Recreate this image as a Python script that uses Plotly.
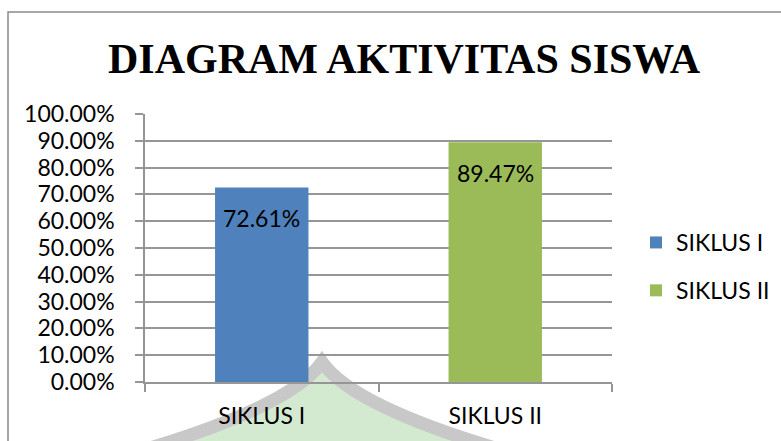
import plotly.graph_objects as go

categories = ["SIKLUS I", "SIKLUS II"]
values = [0.7261, 0.8947]
colors = ["#4F81BD", "#9BBB59"]
title_text = "DIAGRAM AKTIVITAS SISWA"

W, H = 781, 441
L, R, T, B = 145, 612, 114, 382  # plot area in pixels
pw, ph = R - L, B - T


def px(x):
    return (x - L) / pw


def py(y):
    return (B - y) / ph


fig = go.Figure()
for cat, val, col in zip(categories, values, colors):
    fig.add_trace(go.Bar(
        x=[cat], y=[val], name=cat, marker=dict(color=col, line=dict(width=0)),
        width=0.4, legendgroup=cat, hoverinfo="skip",
    ))
    fig.add_annotation(
        x=cat, y=val, xref="x", yref="y", text=f"{val*100:.2f}%",
        showarrow=False, yshift=-31, yanchor="middle",
        font=dict(family="Lato", size=23, color="#000000"),
    )

grid = "#969696"
fig.update_layout(
    width=W, height=H,
    margin=dict(l=L, r=W - R, t=T, b=H - B, pad=0, autoexpand=False),
    paper_bgcolor="white", plot_bgcolor="rgba(0,0,0,0)",
    barmode="overlay",
    title=dict(
        text=title_text, x=404 / W, xanchor="center",
        y=1 - 58 / H, yanchor="middle", yref="container",
        font=dict(family="Liberation Serif", size=42, color="#000000", weight="bold"),
    ),
    font=dict(family="Lato", size=23, color="#000000"),
    showlegend=True,
    legend=dict(
        x=px(636), xanchor="left", y=py(266.5), yanchor="middle",
        font=dict(family="Lato", size=23, color="#000000"),
        tracegroupgap=15, bgcolor="rgba(0,0,0,0)",
    ),
    xaxis=dict(
        type="category", showgrid=False, showline=True, linecolor=grid, linewidth=1.5,
        ticks="outside", ticklen=8, tickcolor=grid, tickwidth=1.5,
        tickson="boundaries", tickfont=dict(family="Lato", size=23, color="#000000"),
        ticklabelstandoff=13, fixedrange=True,
    ),
    yaxis=dict(
        range=[0, 1], dtick=0.1, tick0=0, tickformat=".2%",
        showgrid=True, gridcolor=grid, gridwidth=1.5,
        showline=True, linecolor=grid, linewidth=1.5,
        ticks="outside", ticklen=8, tickcolor=grid, tickwidth=1.5,
        tickfont=dict(family="Lato", size=23, color="#000000"),
        ticklabelstandoff=16, zeroline=False, fixedrange=True,
    ),
    shapes=[
        dict(type="rect", xref="paper", yref="paper",
             x0=px(8), y0=py(470), x1=px(800), y1=py(12),
             line=dict(color="#8a8a8a", width=1.5), fillcolor="rgba(0,0,0,0)", layer="below"),
        dict(type="path", xref="paper", yref="paper", layer="below",
             path=(f"M {px(150)},{py(448)} Q {px(292)},{py(405)} {px(322)},{py(362)} "
                   f"Q {px(352)},{py(405)} {px(495)},{py(448)} Z"),
             line=dict(color="#c8c8c8", width=13), fillcolor="#d4ead0"),
    ],
)

fig.write_html("out.html")
